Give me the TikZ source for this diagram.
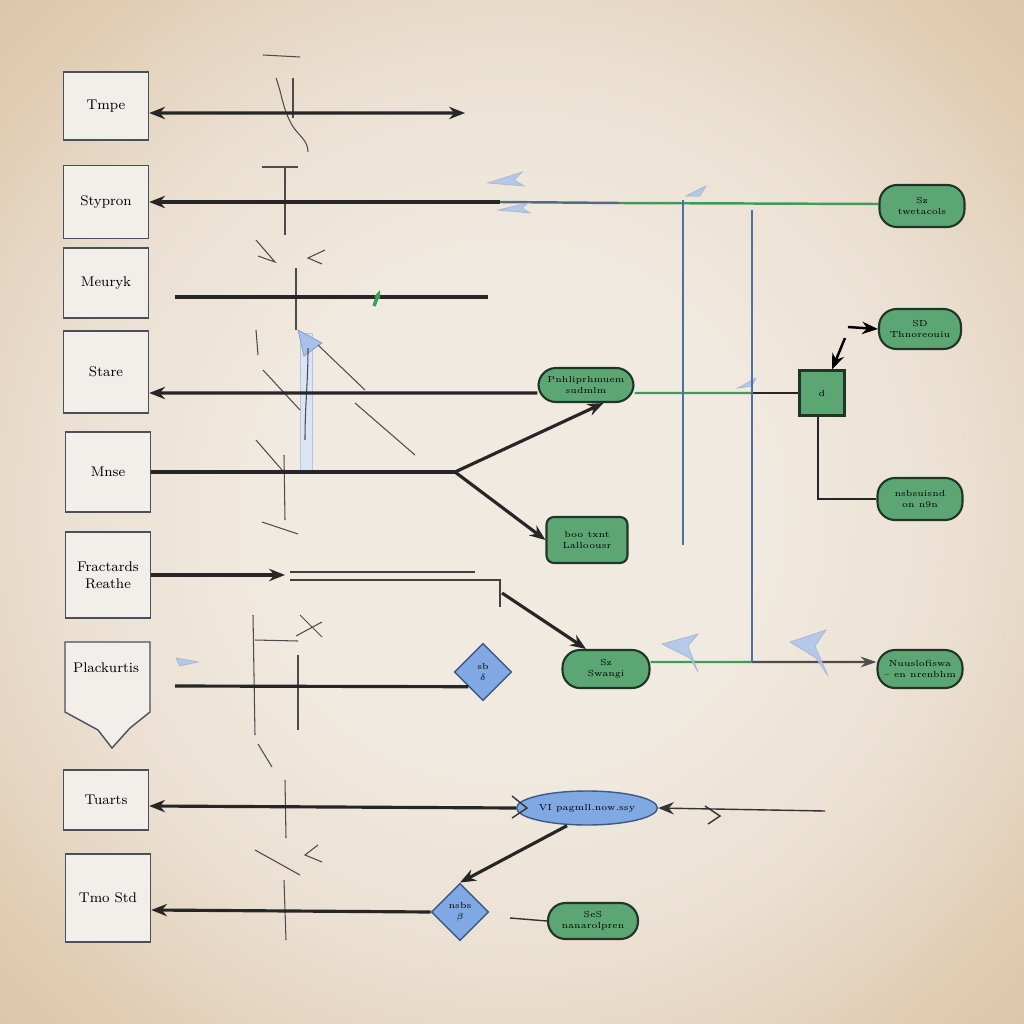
\documentclass[tikz,border=0pt]{standalone}
\usepackage{tikz}
\usetikzlibrary{arrows.meta,shapes.geometric,positioning}

\definecolor{bgin}{HTML}{F1EAE0}
\definecolor{bgmid}{HTML}{EBE0D2}
\definecolor{bgout}{HTML}{E0CBB1}
\definecolor{bgcorner}{HTML}{D4B898}
\definecolor{boxfill}{HTML}{F2EEEA}
\definecolor{boxline}{HTML}{4A4F5E}
\definecolor{nodegreen}{HTML}{5CA674}
\definecolor{nodedark}{HTML}{1F3527}
\definecolor{nodeblue}{HTML}{80A8E2}
\definecolor{lineblue}{HTML}{4C6FA6}
\definecolor{linegreen}{HTML}{3F9B5A}

\pgfdeclareradialshading{paper}{\pgfpoint{0bp}{0bp}}{%
  color(0bp)=(bgin); color(12bp)=(bgin); color(22bp)=(bgmid); color(32bp)=(bgout);
  color(45bp)=(bgcorner); color(71bp)=(bgcorner)}

\tikzset{
  tag/.style={draw=boxline, fill=boxfill, thick, minimum width=1.7cm,
    minimum height=1.4cm, font=\footnotesize, align=center, inner sep=2pt},
  pill/.style={draw=nodedark, fill=nodegreen, very thick, rounded corners=0.35cm,
    minimum width=1.7cm, minimum height=0.8cm, font=\tiny, align=center, inner sep=1pt},
  blob/.style={ellipse, draw=lineblue!80!black, fill=nodeblue, thick,
    minimum width=2cm, minimum height=0.68cm, font=\tiny, inner sep=1pt},
  gem/.style={diamond, draw=lineblue!80!black, fill=nodeblue, thick,
    minimum width=1.15cm, minimum height=1.15cm, font=\tiny, align=center, inner sep=0pt},
  wire/.style={line width=1.8pt, black!85},
  tip/.style={-{Stealth[length=9pt,width=7pt]}},
  sketch/.style={black!70, semithick},
  bluetip/.style={lineblue!50, fill=nodeblue!70, fill opacity=0.8}
}

\begin{document}
\begin{tikzpicture}[x=0.02cm,y=-0.02cm]
    % Background
    \useasboundingbox (0,0) rectangle (1024,1024);
    \shade[shading=paper] (0,0) rectangle (1024,1024);

    % Left boxes
    \node[tag, minimum height=1.36cm] (tmpe) at (106,106) {Tmpe};
    \node[tag, minimum height=1.46cm] (stypron) at (106,202) {Stypron};
    \node[tag, minimum height=1.4cm] (meuryk) at (106,283) {Meuryk};
    \node[tag, minimum height=1.64cm] (stare) at (106,372) {Stare};
    \node[tag, minimum height=1.6cm] (mnse) at (108,472) {Mnse};
    \node[tag, minimum height=1.72cm] (fract) at (108,575) {Fractards\\ Reathe};
    \node[tag, minimum height=1.2cm] (tuarts) at (106,800) {Tuarts};
    \node[tag, minimum height=1.76cm] (tmostd) at (108,898) {Tmo Std};

    % Pointed box
    \draw[boxline, thick, fill=boxfill] (65,642) -- (150,642) -- (150,712)
        -- (130,728) -- (112,748) -- (98,730) -- (65,712) -- cycle;
    \node[font=\footnotesize] (plack) at (106,668) {Plackurtis};

    % Green and blue nodes
    \node[pill, minimum width=1.7cm, minimum height=0.84cm] (g1) at (922,206) {Sz\\ twetacols};
    \node[pill, minimum width=1.64cm] (g2) at (920,329) {SD\\ Thnoreouiu};
    \node[pill, minimum width=1.7cm, minimum height=0.84cm] (g3) at (920,499) {nsbsuisnd\\ on n9n};
    \node[pill, minimum width=1.7cm, minimum height=0.76cm] (g4) at (920,669) {Nuuslofiswa\\ -- en nrenbhm};
    \node[pill, minimum width=1.9cm, minimum height=0.68cm] (np) at (586,385) {Pnhliprhmuem\\ sudmlm};
    \node[pill, rounded corners=0.15cm, minimum width=1.62cm, minimum height=0.92cm] (g5) at (587,540) {boo txnt\\ Lalloousr};
    \node[pill, minimum width=1.74cm, minimum height=0.76cm] (gc) at (606,669) {Sz\\ Swangi};
    \node[pill, minimum width=1.8cm, minimum height=0.72cm] (g6) at (593,921) {SeS\\ nanarolpren};
    \node[pill, rounded corners=0pt, minimum width=0.9cm, minimum height=0.9cm] (sq) at (822,393) {d};
    \node[gem] (d1) at (483,672) {sb\\ $\delta$};
    \node[blob] (e1) at (587,808) {VI pagmll.now.ssy};
    \node[gem] (d2) at (460,912) {nsbs\\ $\beta$};

    % Sketch strokes
    \draw[sketch] (263,55) -- (300,57);
    \draw[sketch] (276,78) to [out=-70,in=120] (292,125) to [out=-60,in=90] (308,152);
    \draw[sketch] (293,78) -- (293,118);
    \draw[sketch] (262,167) -- (298,167);
    \draw[sketch] (285,167) -- (285,235);
    \draw[sketch] (256,240) -- (275,262) -- (258,256);
    \draw[sketch] (325,250) -- (308,258) -- (322,264);
    \draw[sketch] (296,268) -- (296,330);
    \draw[lineblue!40, fill=nodeblue!30] (300,333) rectangle (312,470);
    \draw[lineblue!70, fill=nodeblue!70] (298,330) -- (322,343) -- (304,356) -- cycle;
    \draw[sketch] (308,348) to [out=-90,in=90] (305,440);
    \draw[sketch] (318,345) -- (365,390);
    \draw[sketch] (355,403) -- (415,455);
    \draw[sketch] (263,370) -- (300,410);
    \draw[sketch] (256,330) -- (258,355);
    \draw[sketch] (256,440) -- (282,470);
    \draw[sketch] (284,455) -- (285,520);
    \draw[sketch] (262,522) -- (298,534);
    \draw[sketch] (253,615) -- (255,735);
    \draw[sketch] (255,640) -- (298,641);
    \draw[sketch] (298,655) -- (298,730);
    \draw[sketch] (300,615) -- (322,637);
    \draw[sketch] (296,636) -- (322,622);
    \draw[sketch] (258,744) -- (272,767);
    \draw[sketch] (285,780) -- (286,838);
    \draw[sketch] (255,850) -- (300,875);
    \draw[sketch] (284,880) -- (286,940);
    \draw[sketch] (318,845) -- (305,855) -- (322,862);

    % Row 1
    \coordinate (r1) at (465,113);
    \draw[wire, {Stealth[length=9pt,width=7pt]}-{Stealth[length=9pt,width=7pt]}]
        ([yshift=-0.14cm]tmpe.east) -- (r1);

    % Row 2
    \coordinate (s2) at (500,202);
    \coordinate (s3) at (620,203);
    \draw[wire, {Stealth[length=9pt,width=7pt]}-] (stypron.east) -- (s2);
    \draw[lineblue!60!black!80, line width=1.4pt] (s2) -- (s3);
    \draw[linegreen, line width=1.4pt] (s3) -- ([yshift=0.04cm]g1.west);
    \draw[bluetip] (488,183) -- (522,172) -- (514,180) -- (524,186) -- cycle;
    \draw[bluetip] (498,210) -- (528,203) -- (522,208) -- (530,213) -- cycle;

    % Row 3
    \coordinate (m1) at (175,297);
    \coordinate (m2) at (488,297);
    \draw[wire] (m1) -- (m2);
    \draw[linegreen, line width=2pt, -{Stealth[length=5pt]}] (374,306) -- (380,290);

    % Row 4
    \draw[wire, {Stealth[length=9pt,width=7pt]}-]
        ([yshift=-0.42cm]stare.east) -- ([yshift=-0.16cm]np.west);
    \coordinate (k4) at (752,393);
    \draw[linegreen, line width=1.3pt] ([yshift=-0.16cm]np.east) -- (k4);
    \draw[black!85, line width=1.3pt] (k4) -- (sq.west);
    \draw[bluetip] (738,388) -- (756,378) -- (752,386) -- cycle;

    % Row 5
    \coordinate (fork) at (455,472);
    \draw[wire] (mnse.east) -- (fork);
    \draw[wire, tip] (fork) -- ([xshift=0.35cm]np.south);
    \draw[wire, tip] (fork) -- (g5.west);

    % Row 6
    \coordinate (f1) at (285,575);
    \draw[wire, tip] (fract.east) -- (f1);
    \draw[black!75, thick] (290,572) -- (475,572);
    \draw[black!75, thick] (290,580) -- (500,580) -- (500,607);
    \coordinate (f2) at (502,593);
    \draw[wire, tip] (f2) -- ([xshift=-0.4cm]gc.north);

    % Row 7
    \coordinate (p1) at (175,686);
    \draw[wire] (p1) -- (d1.south west);
    \coordinate (k7) at (752,662);
    \draw[linegreen, line width=1.4pt] ([yshift=0.14cm]gc.east) -- (k7);
    \draw[line width=1.4pt, black!70, -{Stealth[length=9pt,width=6pt]}] (k7) -- ([yshift=0.14cm]g4.west);
    \draw[bluetip] (662,644) -- (698,634) -- (688,646) -- (698,672) -- (690,658) -- cycle;
    \draw[bluetip] (790,642) -- (826,630) -- (815,646) -- (828,676) -- (816,658) -- cycle;
    \draw[bluetip] (176,658) -- (198,662) -- (180,666) -- cycle;

    % Row 8
    \draw[wire, {Stealth[length=9pt,width=7pt]}-]
        ([yshift=-0.12cm]tuarts.east) -- (e1.west);
    \draw[black!80, thick] (512,796) -- (527,808) -- (512,818);
    \coordinate (t1) at (825,811);
    \draw[black!80, thick, tip] (t1) -- (e1.east);
    \draw[black!80, thick] (705,806) -- (720,816) -- (708,824);
    \draw[wire, tip] ([xshift=-0.4cm]e1.south) -- (d2.north);

    % Row 9
    \draw[wire, tip] (d2.west) -- ([yshift=-0.24cm]tmostd.east);
    \coordinate (t2) at (510,918);
    \draw[black!80, thick] (t2) -- (g6.west);

    % Right side
    \draw[lineblue, thick] (683,200) -- (683,545);
    \draw[lineblue, thick] (752,210) -- (752,662);
    \draw[bluetip] (686,196) -- (706,186) -- (700,196) -- cycle;
    \coordinate (a1) at (845,338);
    \draw[line width=1.4pt, tip] (a1) -- ([xshift=0.2cm]sq.north);
    \coordinate (a2) at (848,327);
    \draw[line width=1.4pt, tip] (a2) -- (g2.west);
    \draw[thick, black!85] ([xshift=-0.08cm]sq.south) |- (g3.west);
\end{tikzpicture}
\end{document}
